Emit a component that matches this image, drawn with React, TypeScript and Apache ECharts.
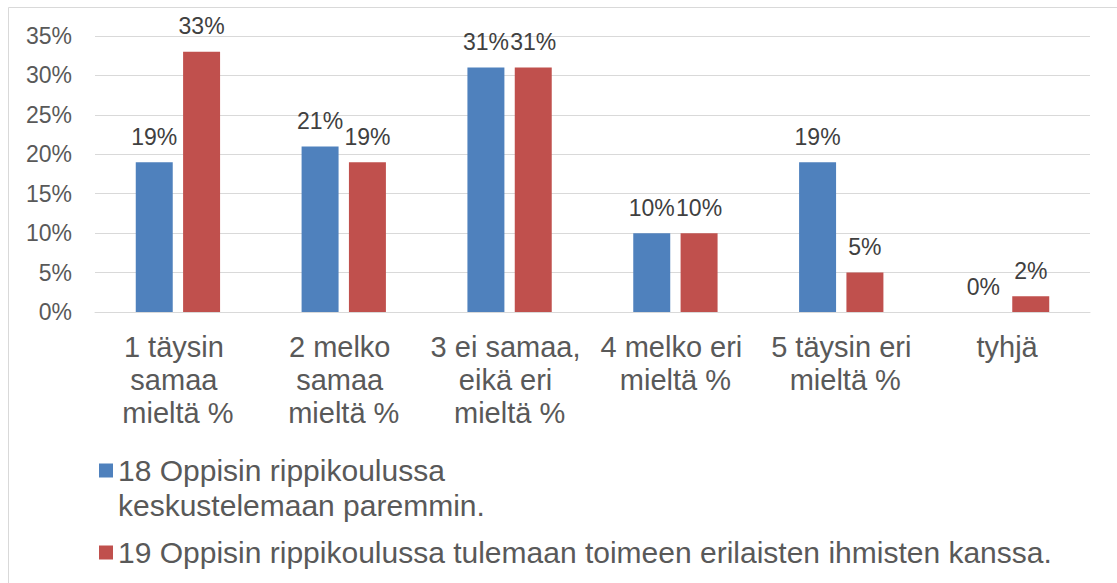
import React, { useEffect, useRef } from "react";
import * as echarts from "echarts";

const categories = [
  "1 täysin samaa mieltä %",
  "2 melko samaa mieltä %",
  "3 ei samaa, eikä eri mieltä %",
  "4 melko eri mieltä %",
  "5 täysin eri mieltä %",
  "tyhjä",
];
const seriesNames = [
  "18 Oppisin rippikoulussa keskustelemaan paremmin.",
  "19 Oppisin rippikoulussa tulemaan toimeen erilaisten ihmisten kanssa.",
];
const series18 = [19, 21, 31, 10, 19, 0];
const series19 = [33, 19, 31, 10, 5, 2];
const yTicks = { min: 0, max: 35, interval: 5 };

const FONT = "'Liberation Sans', Arial, sans-serif";

export default function App() {
  const ref = useRef<HTMLDivElement>(null);
  useEffect(() => {
    if (!ref.current) return;
    const chart = echarts.init(ref.current, undefined, { renderer: "svg" });
    const labelCfg = {
      show: true,
      position: "top",
      distance: 14,
      fontSize: 23,
      color: "#404040",
      fontFamily: FONT,
      formatter: (p: any) => p.value + "%",
    };
    chart.setOption({
      animation: false,
      backgroundColor: "#ffffff",
      textStyle: { fontFamily: FONT },
      graphic: [
        {
          type: "rect",
          shape: { x: 8.5, y: 7.5, width: 1200, height: 700 },
          style: { fill: "none", stroke: "#D9D9D9", lineWidth: 1 },
          silent: true,
          z: -10,
        },
      ],
      grid: { left: 95, right: 27, top: 36, bottom: 271, containLabel: false },
      xAxis: {
        type: "category",
        data: categories,
        axisLine: { show: true, lineStyle: { color: "#D9D9D9", width: 1 } },
        axisTick: { show: false },
        axisLabel: {
          interval: 0,
          margin: 18,
          fontSize: 29,
          lineHeight: 33,
          color: "#595959",
          fontFamily: FONT,
          width: 160,
          overflow: "break",
        },
      },
      yAxis: {
        type: "value",
        min: yTicks.min,
        max: yTicks.max,
        interval: yTicks.interval,
        axisLine: { show: false },
        axisTick: { show: false },
        splitLine: { lineStyle: { color: "#D9D9D9", width: 1 } },
        axisLabel: {
          formatter: (v: number) => v + "%",
          fontSize: 23,
          color: "#595959",
          margin: 23,
          fontFamily: FONT,
        },
      },
      legend: {
        orient: "vertical",
        left: 99,
        top: 418,
        padding: 0,
        itemWidth: 14,
        itemHeight: 14,
        itemGap: 12,
        icon: "rect",
        textStyle: {
          fontSize: 30,
          lineHeight: 35,
          color: "#595959",
          fontFamily: FONT,
        },
        formatter: (name: string) =>
          name === seriesNames[0]
            ? "\n18 Oppisin rippikoulussa\nkeskustelemaan paremmin."
            : name,
        data: [seriesNames[0], seriesNames[1]],
      },
      series: [
        {
          name: seriesNames[0],
          type: "bar",
          data: series18,
          barWidth: "22.3%",
          barGap: "28%",
          itemStyle: { color: "#4F81BD" },
          label: labelCfg,
        },
        {
          name: seriesNames[1],
          type: "bar",
          data: series19,
          barWidth: "22.3%",
          barGap: "28%",
          itemStyle: { color: "#C0504D" },
          label: labelCfg,
        },
      ],
    });
    return () => chart.dispose();
  }, []);
  return (
    <div
      ref={ref}
      style={{ position: "fixed", left: 0, top: 0, width: 1117, height: 583 }}
    />
  );
}
